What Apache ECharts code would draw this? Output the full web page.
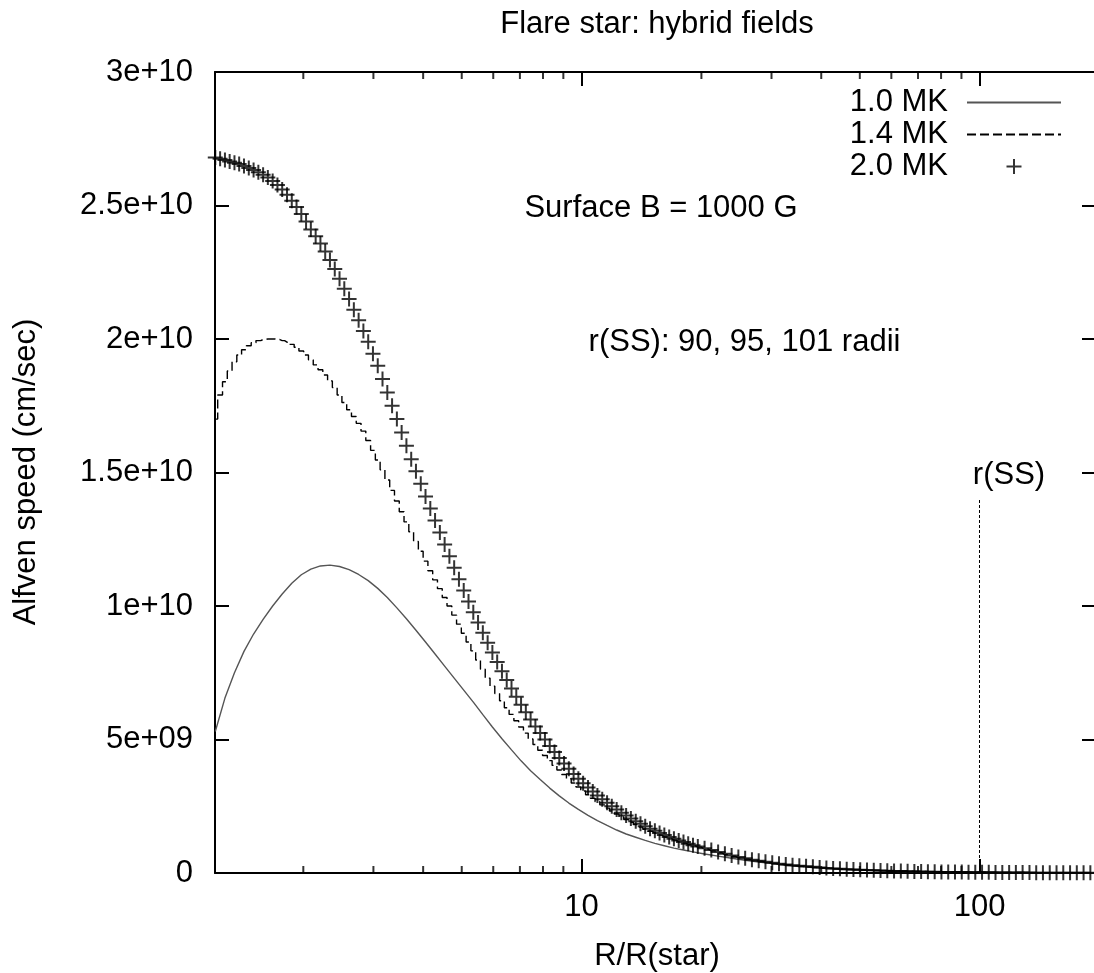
<!DOCTYPE html>
<html><head><meta charset="utf-8">
<script src="https://cdn.jsdelivr.net/npm/echarts@6/dist/echarts.min.js"></script>
<style>html,body{margin:0;padding:0;background:#fff}#chart{width:1094px;height:973px}</style>
</head><body><div id="chart"></div>
<script>
// R/R(star) grid shared by the 1.4 MK and 2.0 MK runs
const radius = [1.202,1.236,1.271,1.306,1.343,1.380,1.419,1.459,1.500,1.542,
1.585,1.629,1.675,1.722,1.770,1.820,1.871,1.923,1.977,2.032,
2.089,2.148,2.208,2.270,2.333,2.399,2.466,2.535,2.606,2.679,
2.754,2.831,2.911,2.992,3.076,3.162,3.251,3.342,3.436,3.532,
3.631,3.733,3.837,3.945,4.055,4.169,4.285,4.406,4.529,4.656,
4.786,4.920,5.058,5.200,5.346,5.495,5.649,5.808,5.970,6.138,
6.310,6.486,6.668,6.855,7.047,7.244,7.447,7.656,7.871,8.091,
8.318,8.551,8.790,9.036,9.290,9.550,9.817,10.09,10.38,10.67,
10.96,11.27,11.59,11.91,12.25,12.59,12.94,13.30,13.68,14.06,
14.45,14.86,15.28,15.70,16.14,16.60,17.06,17.54,18.03,18.53,
19.05,19.59,
20.37,21.18,22.03,22.91,23.82,24.77,25.76,26.79,27.86,28.97,
30.13,31.33,32.58,33.88,35.24,36.64,38.11,39.63,41.21,42.85,
44.57,46.35,48.19,50.12,52.12,54.20,56.36,58.61,60.95,63.39,
65.92,68.55,71.29,74.13,77.09,80.17,83.37,86.70,90.16,93.76,
97.50,101.4,105.4,109.6,114.0,118.6,123.3,128.2,133.4,138.7,
144.2,150.0,156.0,162.2,168.7,175.4,182.4,189.7,197.2];

// 2.0 MK Alfven speed (cm/sec)
const alfven20 = [2.680e10,2.675e10,2.670e10,2.665e10,2.660e10,2.655e10,2.648e10,2.640e10,2.633e10,2.625e10,
2.615e10,2.605e10,2.592e10,2.577e10,2.560e10,2.540e10,2.518e10,2.494e10,2.468e10,2.440e10,
2.410e10,2.385e10,2.358e10,2.328e10,2.296e10,2.262e10,2.226e10,2.188e10,2.150e10,2.110e10,
2.070e10,2.030e10,1.990e10,1.945e10,1.900e10,1.850e10,1.800e10,1.750e10,1.700e10,1.650e10,
1.600e10,1.550e10,1.505e10,1.458e10,1.410e10,1.365e10,1.320e10,1.275e10,1.230e10,1.186e10,
1.143e10,1.100e10,1.058e10,1.017e10,0.977e10,0.938e10,0.900e10,0.862e10,0.826e10,0.790e10,
0.756e10,0.723e10,0.691e10,0.660e10,0.630e10,0.602e10,0.575e10,0.549e10,0.524e10,0.500e10,
0.476e10,0.453e10,0.431e10,0.410e10,0.390e10,0.371e10,0.353e10,0.336e10,0.320e10,0.305e10,
0.290e10,0.276e10,0.263e10,0.250e10,0.238e10,0.226e10,0.215e10,0.204e10,0.194e10,0.184e10,
0.175e10,0.166e10,0.158e10,0.150e10,0.142e10,0.135e10,0.128e10,0.122e10,0.116e10,0.110e10,
0.104e10,0.099e10,
0.093e10,0.086e10,0.079e10,0.072e10,0.066e10,0.060e10,0.055e10,0.050e10,0.046e10,0.042e10,
0.038e10,0.035e10,0.032e10,0.029e10,0.027e10,0.025e10,0.023e10,0.021e10,0.019e10,0.017e10,
0.016e10,0.014e10,0.013e10,0.012e10,0.011e10,0.010e10,0.0092e10,0.0085e10,0.0078e10,0.0071e10,
0.0065e10,0.0060e10,0.0055e10,0.0050e10,0.0046e10,0.0042e10,0.0039e10,0.0036e10,0.0033e10,0.0030e10,
0.0028e10,0.0026e10,0.0024e10,0.0022e10,0.0020e10,0.0019e10,0.0017e10,0.0016e10,0.0015e10,0.0014e10,
0.0013e10,0.0012e10,0.0011e10,0.0010e10,0.00095e10,0.0009e10,0.00085e10,0.0008e10,0.00075e10];

// 1.4 MK Alfven speed (cm/sec)
const alfven14 = [1.700e10,1.790e10,1.840e10,1.880e10,1.915e10,1.940e10,1.960e10,1.975e10,1.986e10,1.994e10,
1.998e10,2.000e10,2.000e10,1.998e10,1.994e10,1.988e10,1.980e10,1.969e10,1.955e10,1.940e10,
1.922e10,1.903e10,1.885e10,1.865e10,1.843e10,1.818e10,1.790e10,1.762e10,1.735e10,1.710e10,
1.684e10,1.655e10,1.620e10,1.583e10,1.547e10,1.510e10,1.472e10,1.433e10,1.393e10,1.353e10,
1.315e10,1.278e10,1.242e10,1.205e10,1.168e10,1.132e10,1.098e10,1.065e10,1.032e10,1.000e10,
0.966e10,0.932e10,0.898e10,0.865e10,0.832e10,0.798e10,0.763e10,0.730e10,0.700e10,0.672e10,
0.645e10,0.619e10,0.594e10,0.570e10,0.547e10,0.524e10,0.502e10,0.481e10,0.460e10,0.440e10,
0.421e10,0.403e10,0.386e10,0.369e10,0.353e10,0.337e10,0.322e10,0.307e10,0.293e10,0.280e10,
0.267e10,0.255e10,0.243e10,0.232e10,0.221e10,0.210e10,0.200e10,0.190e10,0.181e10,0.172e10,
0.164e10,0.156e10,0.149e10,0.142e10,0.135e10,0.129e10,0.123e10,0.117e10,0.112e10,0.107e10,
0.102e10,0.097e10,
0.090e10,0.083e10,0.076e10,0.069e10,0.063e10,0.057e10,0.052e10,0.048e10,0.044e10,0.040e10,
0.036e10,0.033e10,0.030e10,0.0275e10,0.025e10,0.023e10,0.021e10,0.0195e10,0.018e10,0.0165e10,
0.015e10,0.0137e10,0.0125e10,0.0115e10,0.0105e10,0.0097e10,0.009e10,0.0083e10,0.0076e10,0.007e10,
0.0064e10,0.0059e10,0.0054e10,0.005e10,0.0046e10,0.0042e10,0.0039e10,0.0036e10,0.0033e10,0.003e10,
0.0028e10,0.0026e10,0.0024e10,0.0022e10,0.002e10,0.0019e10,0.0017e10,0.0016e10,0.0015e10,0.0014e10,
0.0013e10,0.0012e10,0.0011e10,0.001e10,0.00095e10,0.0009e10,0.00085e10,0.0008e10,0.00075e10];

// coarser R grid for the smooth 1.0 MK curve
const radiusCoarse = [1.202,1.271,1.343,1.419,1.500,1.585,1.675,1.770,1.871,1.977,
2.089,2.208,2.333,2.466,2.606,2.754,2.911,3.076,3.251,3.436,
3.631,3.837,4.055,4.285,4.529,4.786,5.058,5.346,5.649,5.970,
6.310,6.668,7.047,7.447,7.871,8.318,8.790,9.290,9.817,10.38,
10.96,11.59,12.25,12.94,13.68,14.45,15.28,16.14,17.06,18.03,
19.05,
20.37,22.03,23.82,25.76,27.86,30.13,32.58,35.24,38.11,41.21,
44.57,48.19,52.12,56.36,60.95,65.92,71.29,77.09,83.37,90.16,
97.50,105.4,114.0,123.3,133.4,144.2,156.0,168.7,182.4,197.2];

// 1.0 MK Alfven speed (cm/sec)
const alfven10 = [0.530e10,0.655e10,0.750e10,0.830e10,0.895e10,0.950e10,1.000e10,1.045e10,1.085e10,1.117e10,
1.138e10,1.150e10,1.153e10,1.148e10,1.136e10,1.118e10,1.095e10,1.066e10,1.032e10,0.993e10,
0.952e10,0.909e10,0.865e10,0.820e10,0.775e10,0.730e10,0.685e10,0.640e10,0.593e10,0.547e10,
0.503e10,0.461e10,0.420e10,0.383e10,0.350e10,0.318e10,0.289e10,0.262e10,0.238e10,0.216e10,
0.196e10,0.178e10,0.161e10,0.146e10,0.134e10,0.122e10,0.111e10,0.102e10,0.093e10,0.086e10,
0.079e10,
0.071e10,0.063e10,0.055e10,0.048e10,0.041e10,0.035e10,0.029e10,0.024e10,0.020e10,0.017e10,
0.0142e10,0.0118e10,0.0098e10,0.0082e10,0.0068e10,0.0057e10,0.0048e10,0.004e10,0.0034e10,0.0029e10,
0.0024e10,0.002e10,0.0017e10,0.0015e10,0.0013e10,0.0011e10,0.001e10,0.0009e10,0.0008e10,0.0007e10];

const seriesNames = ['1.0 MK', '1.4 MK', '2.0 MK'];
const yTickLabels = ['0', '5e+09', '1e+10', '1.5e+10', '2e+10', '2.5e+10', '3e+10'];
const xMajorTicks = [10, 100];
const xMinorTicks = [2, 3, 4, 5, 6, 7, 8, 9, 20, 30, 40, 50, 60, 70, 80, 90];
const xRange = [1.2, 196];
const yRange = [0, 3e10];
const yStep = 5e9;
const rssRadius = 100;
const rssTop = 1.4e10;

const FONT = '"Liberation Sans", Arial, sans-serif';
const FS = 31;
const chart = echarts.init(document.getElementById('chart'), null, {renderer: 'canvas'});
const plusPath = 'path://M6.5,0H8.5V6.5H15V8.5H8.5V15H6.5V8.5H0V6.5H6.5Z';
const axisLineStyle = () => ({show: true, onZero: false, lineStyle: {color: '#000', width: 2}});
const tickStyle = () => ({show: true, inside: true, length: 14, lineStyle: {color: '#000', width: 2}});
const txt = (text, x, y, extra) => Object.assign({
  type: 'text', x: x, y: y, silent: true,
  style: {text: text, font: FS + 'px ' + FONT, fill: '#000', align: 'center', verticalAlign: 'middle'}
}, extra || {});
const hiddenSymbol = () => ({opacity: 0, borderWidth: 0});

const option = {
  animation: false,
  backgroundColor: '#fff',
  textStyle: {fontFamily: FONT},
  grid: {left: 215, right: -2, top: 72, bottom: 100, containLabel: false, outerBoundsMode: 'none'},
  xAxis: [{
    type: 'log', logBase: 10, min: xRange[0], max: xRange[1], position: 'bottom',
    axisLine: axisLineStyle(), axisTick: tickStyle(), splitLine: {show: false}, minorTick: {show: false},
    axisLabel: {
      margin: 19, color: '#000', fontSize: FS, fontFamily: FONT,
      formatter: function (v) {
        const r = Math.round(v);
        return (Math.abs(v - r) < 1e-6 && xMajorTicks.indexOf(r) >= 0) ? String(r) : '';
      }
    }
  }, {
    type: 'log', logBase: 10, min: xRange[0], max: xRange[1], position: 'top',
    axisLine: axisLineStyle(), axisTick: tickStyle(), splitLine: {show: false}, minorTick: {show: false},
    axisLabel: {show: false}
  }],
  yAxis: [{
    type: 'value', min: yRange[0], max: yRange[1], interval: yStep, position: 'left',
    axisLine: axisLineStyle(), axisTick: tickStyle(), splitLine: {show: false},
    axisLabel: {
      margin: 22, color: '#000', fontSize: FS, fontFamily: FONT,
      formatter: function (v) { return yTickLabels[Math.round(v / yStep)] || ''; }
    }
  }, {
    type: 'value', min: yRange[0], max: yRange[1], interval: yStep, position: 'right',
    axisLine: axisLineStyle(), axisTick: tickStyle(), splitLine: {show: false}, axisLabel: {show: false}
  }],
  legend: {
    orient: 'vertical', right: 32, top: 87, align: 'right',
    itemWidth: 94, itemHeight: 15, itemGap: 1, padding: 0, selectedMode: false,
    textStyle: {fontSize: FS, color: '#000', fontFamily: FONT, padding: [0, 14, 0, 0]},
    data: [
      {name: seriesNames[0], itemStyle: hiddenSymbol()},
      {name: seriesNames[1], itemStyle: hiddenSymbol()},
      {name: seriesNames[2]}
    ]
  },
  series: [{
    name: seriesNames[0], type: 'line', symbol: 'none',
    data: radiusCoarse.map((r, i) => [r, alfven10[i]]),
    lineStyle: {color: '#555', width: 1.4}, itemStyle: {color: '#555'},
    z: 3,
    markLine: {
      silent: true, symbol: ['none', 'none'], label: {show: false}, animation: false,
      lineStyle: {color: '#000', width: 1, type: [3, 2]},
      data: [[{coord: [rssRadius, yRange[0]]}, {coord: [rssRadius, rssTop]}]]
    }
  }, {
    name: seriesNames[1], type: 'line', symbol: 'none', step: 'middle',
    data: radius.map((r, i) => [r, alfven14[i]]),
    lineStyle: {color: '#000', width: 1.4, type: [9, 4]}, itemStyle: {color: '#000'},
    z: 3
  }, {
    name: seriesNames[2], type: 'scatter', symbol: plusPath, symbolSize: 15,
    data: radius.map((r, i) => [r, alfven20[i]]),
    itemStyle: {color: '#000'}, z: 4
  }, {
    type: 'scatter', silent: true, clip: false, symbol: 'rect', symbolSize: [2, 7], symbolOffset: [0, -3.5],
    data: xMinorTicks.map(r => [r, yRange[0]]), itemStyle: {color: '#000'}, z: 6
  }, {
    type: 'scatter', silent: true, clip: false, symbol: 'rect', symbolSize: [2, 7], symbolOffset: [0, 3.5],
    data: xMinorTicks.map(r => [r, yRange[1]]), itemStyle: {color: '#000'}, z: 6
  }],
  graphic: [
    txt('Flare star: hybrid fields', 657, 24.5),
    txt('R/R(star)', 657, 956),
    txt('Alfven speed (cm/sec)', 26.7, 472, {rotation: Math.PI / 2}),
    txt('Surface B = 1000 G', 661, 208),
    txt('r(SS): 90, 95, 101 radii', 744.5, 342),
    txt('r(SS)', 1009, 475)
  ]
};
chart.setOption(option);
</script>
</body></html>
